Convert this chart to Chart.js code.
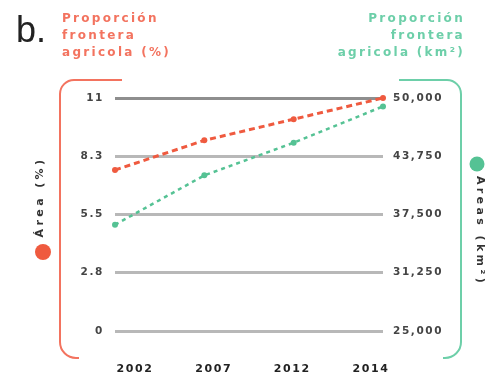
<!DOCTYPE html>
<html>
<head>
<meta charset="utf-8">
<script src="https://cdn.jsdelivr.net/npm/chart.js@4/dist/chart.umd.min.js"></script>
<style>
  html, body { margin: 0; padding: 0; background: #fff; }
  #wrap { position: relative; width: 489px; height: 379px; }
</style>
</head>
<body>
<div id="wrap"><canvas id="c" width="489" height="379"></canvas></div>
<script>
// Years on the horizontal axis
const years = ['2002', '2007', '2012', '2014'];
// Agricultural frontier share (%), left axis
const pctValues = [7.6, 9.0, 10.0, 11.0];
// Agricultural frontier area (km²), right axis
const kmValues = [36400, 41700, 45200, 49100];
// Tick labels
const pctTicks = ['0', '2.8', '5.5', '8.3', '11'];
const kmTicks = ['25,000', '31,250', '37,500', '43,750', '50,000'];

const RED = '#ef5a3f';
const GREEN = '#55c294';
const RED_SOFT = '#f3735f';
const GREEN_SOFT = '#6dcfa9';
const SPACING = '1.6px';

const spacingPlugin = {
  id: 'spacing',
  beforeUpdate(chart) { chart.ctx.letterSpacing = SPACING; },
  beforeDraw(chart) { chart.ctx.letterSpacing = SPACING; }
};

// Titles, side labels, bullets and the rounded brackets around the plot
const decorPlugin = {
  id: 'decor',
  afterDraw(chart) {
    const ctx = chart.ctx;
    ctx.save();

    // panel label
    ctx.letterSpacing = '0px';
    ctx.fillStyle = '#222';
    ctx.font = '36px "Liberation Sans", Arial, sans-serif';
    ctx.textAlign = 'left';
    ctx.textBaseline = 'alphabetic';
    ctx.fillText('b.', 16, 42);

    // series titles
    ctx.letterSpacing = '2.3px';
    ctx.font = 'bold 12px "DejaVu Sans", sans-serif';
    ctx.textBaseline = 'middle';
    ctx.fillStyle = RED_SOFT;
    ctx.textAlign = 'left';
    ['Proporción', 'frontera', 'agricola (%)'].forEach((t, i) => ctx.fillText(t, 62, 19 + i * 17));
    ctx.fillStyle = GREEN_SOFT;
    ctx.textAlign = 'right';
    ['Proporción', 'frontera', 'agricola (km²)'].forEach((t, i) => ctx.fillText(t, 465, 19 + i * 17));

    // brackets
    ctx.lineWidth = 2;
    ctx.strokeStyle = RED_SOFT;
    ctx.beginPath();
    ctx.moveTo(122, 80);
    ctx.arcTo(60, 80, 60, 140, 14);
    ctx.arcTo(60, 358, 120, 358, 16);
    ctx.lineTo(79, 358);
    ctx.stroke();

    ctx.strokeStyle = GREEN_SOFT;
    ctx.beginPath();
    ctx.moveTo(399, 80);
    ctx.arcTo(461, 80, 461, 140, 14);
    ctx.arcTo(461, 358, 400, 358, 16);
    ctx.lineTo(443, 358);
    ctx.stroke();

    // side labels
    ctx.letterSpacing = '3.4px';
    ctx.font = 'bold 11px "DejaVu Sans", sans-serif';
    ctx.fillStyle = '#333';
    ctx.textAlign = 'center';
    ctx.textBaseline = 'middle';
    ctx.save();
    ctx.translate(40, 197);
    ctx.rotate(-Math.PI / 2);
    ctx.fillText('Área (%)', 0, 0);
    ctx.restore();
    ctx.save();
    ctx.translate(480, 231);
    ctx.rotate(Math.PI / 2);
    ctx.fillText('Areas (km²)', 0, 0);
    ctx.restore();

    // bullets
    ctx.fillStyle = RED;
    ctx.beginPath(); ctx.arc(43, 252, 8, 0, Math.PI * 2); ctx.fill();
    ctx.fillStyle = GREEN;
    ctx.beginPath(); ctx.arc(477, 164, 7.5, 0, Math.PI * 2); ctx.fill();

    ctx.restore();
  }
};

const tickFont = { family: '"DejaVu Sans", sans-serif', weight: 'bold', size: 10.5 };

new Chart(document.getElementById('c'), {
  type: 'line',
  data: {
    labels: years,
    datasets: [
      {
        label: 'Proporción frontera agricola (%)',
        data: pctValues,
        yAxisID: 'y',
        xAxisID: 'x',
        borderColor: RED,
        backgroundColor: RED,
        borderWidth: 3,
        borderDash: [6, 4],
        pointRadius: 3,
        pointBorderWidth: 0,
        tension: 0,
        clip: false
      },
      {
        label: 'Proporción frontera agricola (km²)',
        data: kmValues,
        yAxisID: 'yR',
        xAxisID: 'x',
        borderColor: GREEN,
        backgroundColor: GREEN,
        borderWidth: 2.5,
        borderDash: [4, 4],
        pointRadius: 3,
        pointBorderWidth: 0,
        tension: 0,
        clip: false
      }
    ]
  },
  options: {
    responsive: false,
    animation: false,
    devicePixelRatio: 1,
    layout: { padding: { top: 98, left: 0, right: 0, bottom: 0 } },
    plugins: { legend: { display: false }, tooltip: { enabled: false } },
    scales: {
      x: { type: 'category', display: false },
      xl: {
        type: 'linear',
        position: 'bottom',
        min: -0.255,
        max: 3.153,
        afterBuildTicks(scale) { scale.ticks = years.map((_, i) => ({ value: i })); },
        afterFit(scale) { scale.height = 48; },
        grid: { display: false, drawTicks: false },
        border: { display: false },
        ticks: {
          padding: 32,
          color: '#222',
          font: { family: '"DejaVu Sans", sans-serif', weight: 'bold', size: 11 },
          maxRotation: 0,
          callback: (v) => years[v]
        }
      },
      y: {
        position: 'left',
        min: 0,
        max: 11,
        afterBuildTicks(scale) { scale.ticks = pctTicks.map((_, i) => ({ value: i * 2.75 })); },
        afterFit(scale) { scale.width = 115; },
        border: { display: false },
        grid: {
          drawTicks: false,
          lineWidth: 3,
          color: (c) => (c.index === pctTicks.length - 1 ? '#8e8e8e' : '#b8b8b8')
        },
        ticks: {
          padding: 11,
          color: '#444',
          font: tickFont,
          callback: (v, i) => pctTicks[i]
        }
      },
      yR: {
        position: 'right',
        min: 25000,
        max: 50000,
        afterBuildTicks(scale) { scale.ticks = kmTicks.map((_, i) => ({ value: 25000 + i * 6250 })); },
        afterFit(scale) { scale.width = 106; },
        border: { display: false },
        grid: { display: false, drawTicks: false },
        ticks: {
          padding: 10,
          color: '#444',
          font: tickFont,
          callback: (v, i) => kmTicks[i]
        }
      }
    }
  },
  plugins: [spacingPlugin, decorPlugin]
});
</script>
</body>
</html>
